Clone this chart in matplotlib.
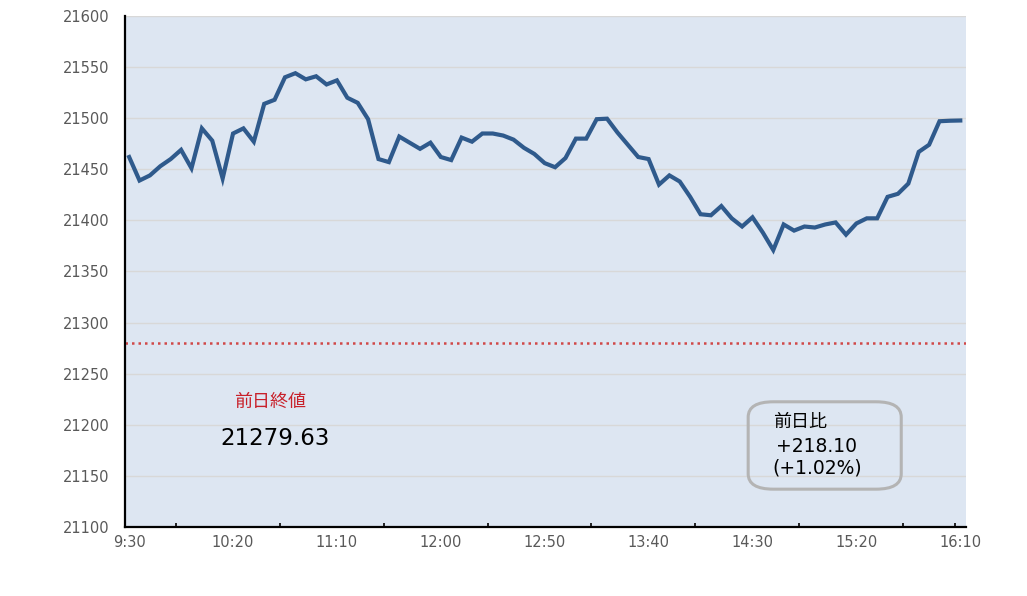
import matplotlib
matplotlib.use("Agg")
import matplotlib.pyplot as plt
from matplotlib.patches import FancyBboxPatch

# DejaVu for the digits (wide, like the original), Noto CJK for the kanji
plt.rcParams["font.family"] = ["DejaVu Sans", "Noto Sans CJK JP"]

# 5-minute closes, 9:30 .. 16:10
prices = [
    21462, 21439, 21444, 21453, 21460, 21469, 21451, 21490, 21478, 21441,
    21485, 21490, 21477, 21514, 21518, 21540, 21544, 21538, 21541, 21533,
    21537, 21520, 21515, 21499, 21460, 21457, 21482, 21476, 21470, 21476,
    21462, 21459, 21481, 21477, 21485, 21485, 21483, 21479, 21471, 21465,
    21456, 21452, 21461, 21480, 21480, 21499, 21499.5, 21486, 21474, 21462,
    21460, 21435, 21444, 21438, 21423, 21406, 21405, 21414, 21402, 21394,
    21403, 21388, 21371, 21396, 21390, 21394, 21393, 21396, 21398, 21386,
    21397, 21402, 21402, 21423, 21426, 21436, 21467, 21474, 21497, 21497.5,
    21497.73,
]
time_labels = ["9:30", "10:20", "11:10", "12:00", "12:50",
               "13:40", "14:30", "15:20", "16:10"]
label_idx = [0, 10, 20, 30, 40, 50, 60, 70, 80]
minor_idx = [4.5, 14.5, 24.5, 34.5, 44.5, 54.5, 64.5, 74.5, 79.5]
prev_close = 21279.63
change = 218.10
change_pct = 1.02

fig = plt.figure(figsize=(10.27, 5.96), dpi=100)
ax = fig.add_axes([0.1217, 0.1158, 0.8189, 0.8574])
ax.set_facecolor("#dde6f2")

ax.plot(range(len(prices)), prices, color="#2f5a8c", lw=3,
        solid_joinstyle="miter", zorder=3)
ax.axhline(prev_close, color="#d04848", lw=1.8, ls=(0, (1, 1.6)), zorder=2)

ax.set_xlim(-0.4, 80.55)
ax.set_ylim(21100, 21600)
ax.set_yticks(range(21100, 21601, 50))
ax.yaxis.grid(True, color="#d8d8d8", lw=1)
ax.set_axisbelow(True)

ax.set_xticks(label_idx)
ax.set_xticklabels(time_labels)
ax.set_xticks(minor_idx, minor=True)
ax.tick_params(axis="x", which="major", length=0, pad=6,
               labelsize=10.5, labelcolor="#595959")
ax.tick_params(axis="x", which="minor", direction="in", length=3,
               width=1.2, color="black")
ax.tick_params(axis="y", length=0, pad=11, labelsize=10.5,
               labelcolor="#595959")

for side in ("top", "right"):
    ax.spines[side].set_visible(False)
for side in ("left", "bottom"):
    ax.spines[side].set_color("black")
    ax.spines[side].set_linewidth(1.6)

ax.text(0.172, 0.245, "前日終値", transform=ax.transAxes, color="#c8202a",
        fontsize=13, ha="center", va="center")
ax.text(0.179, 0.174, f"{prev_close:.2f}", transform=ax.transAxes,
        color="black", fontsize=16.5, ha="center", va="center")

box = FancyBboxPatch((0.741, 0.074), 0.182, 0.171,
                     boxstyle="round,pad=0,rounding_size=0.03",
                     transform=ax.transAxes, facecolor="none",
                     edgecolor="#b4b4b4", lw=2.2, zorder=4)
ax.add_patch(box)
ax.text(0.770, 0.205, "前日比", transform=ax.transAxes, fontsize=13,
        ha="left", va="center", color="black")
ax.text(0.774, 0.157, f"+{change:.2f}", transform=ax.transAxes, fontsize=13.5,
        ha="left", va="center", color="black")
ax.text(0.770, 0.115, f"(+{change_pct:.2f}%)", transform=ax.transAxes,
        fontsize=13.5, ha="left", va="center", color="black")

fig.savefig("out.png", dpi=100)
